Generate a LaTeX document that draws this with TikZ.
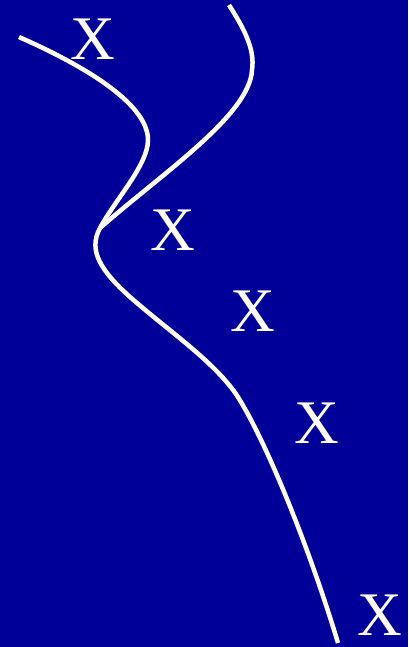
\documentclass[tikz,border=0pt]{standalone}
\usepackage{fontspec}
\setmainfont{Liberation Serif}
\usepackage{xcolor}
\definecolor{nightblue}{RGB}{0, 0, 153}
\usetikzlibrary{positioning}

\begin{document}
\begin{tikzpicture}[
    x=1pt, y=-1pt,
    curve/.style={draw=white, line width=4.5pt},
    xlabel/.style={text=white, inner sep=0pt, font=\fontsize{62}{62}\selectfont}
]
    \fill[nightblue] (0,0) rectangle (408,647);
    \useasboundingbox (0,0) rectangle (408,647);

    \coordinate (lstart) at (19,37);
    \coordinate (rstart) at (229,5);
    \coordinate (cusp) at (100,228);
    \coordinate (lend) at (338,643);

    % the two upper branches meeting at the cusp
    \draw[curve] (lstart) .. controls (78,63) and (148,102) .. (148,140)
        .. controls (148,165) and (115,200) .. (cusp);
    \draw[curve] (rstart) .. controls (245,30) and (255,50) .. (252,70)
        .. controls (250,115) and (160,175) .. (cusp);
    % lower branch
    \draw[curve] (cusp) .. controls (88,250) and (100,270) .. (130,297)
        .. controls (170,332) and (212,360) .. (236,394)
        .. controls (266,440) and (310,550) .. (lend);

    \node[xlabel] (x1) at (93,39) {X};
    \node[xlabel] (x2) at (173,230) {X};
    \node[xlabel] (x3) at (253,311) {X};
    \node[xlabel] (x4) at (317,423) {X};
    \node[xlabel] (x5) at (380,615) {X};
\end{tikzpicture}
\end{document}
